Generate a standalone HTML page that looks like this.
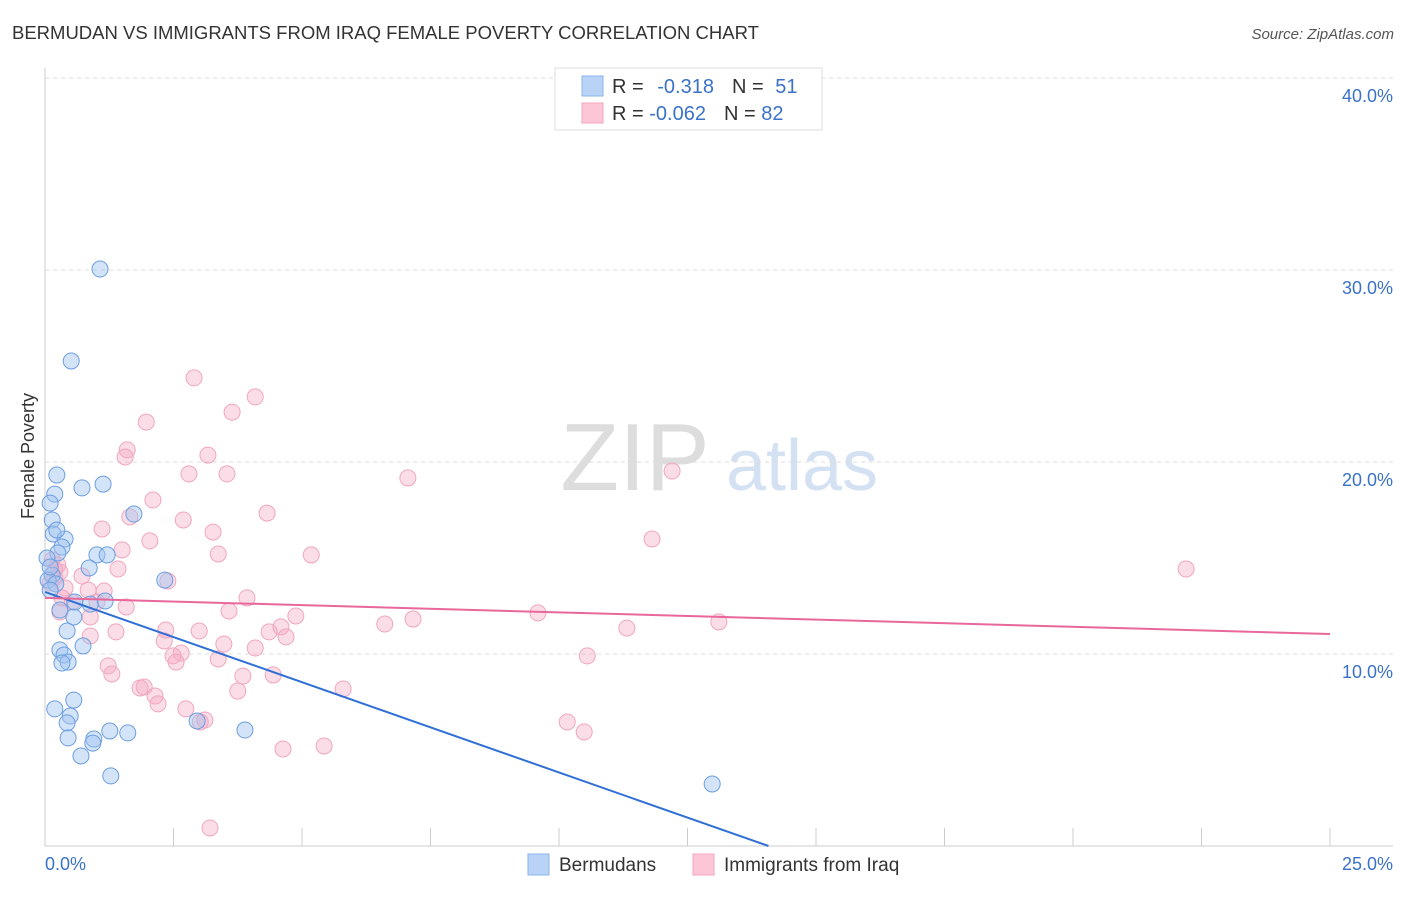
<!DOCTYPE html>
<html><head><meta charset="utf-8"><style>
body{margin:0;background:#fff;font-family:"Liberation Sans",sans-serif;}
svg text{font-family:"Liberation Sans",sans-serif;}
</style></head><body>
<svg id="chart" width="1406" height="892" viewBox="0 0 1406 892" xmlns="http://www.w3.org/2000/svg">
<text x="12" y="39" font-size="18.5" fill="#333">BERMUDAN VS IMMIGRANTS FROM IRAQ FEMALE POVERTY CORRELATION CHART</text>
<text x="1394" y="39" font-size="15" fill="#555" text-anchor="end" font-style="italic">Source: ZipAtlas.com</text>
<g>
<text x="635" y="490" font-size="96" fill="#ddd" font-family="Liberation Serif" text-anchor="middle">ZIP</text>
<text x="802" y="490" font-size="72" fill="#d3e1f3" text-anchor="middle">atlas</text>
</g>
<g id="grid"></g>
<g id="axes"></g>
<text transform="translate(34,456) rotate(-90)" font-size="18" fill="#333" text-anchor="middle">Female Poverty</text>
<g id="pts"></g>
<g id="trends"></g>
<g>
<rect x="555" y="68" width="267" height="62" fill="#fff" stroke="#ddd"/>
<rect x="582" y="76" width="21" height="20" fill="#b8d3f6" stroke="#8ab4ea"/>
<rect x="582" y="103" width="21" height="20" fill="#fcc6d6" stroke="#f2a5bf"/>
<text x="612" y="93" font-size="20" fill="#333">R = <tspan fill="#3a72c8" dx="8">-0.318</tspan><tspan dx="18" fill="#333">N = </tspan><tspan fill="#3a72c8" dx="6">51</tspan></text>
<text x="612" y="120" font-size="20" fill="#333">R = <tspan fill="#3a72c8">-0.062</tspan><tspan dx="18" fill="#333">N = </tspan><tspan fill="#3a72c8">82</tspan></text>
</g>
<g>
<rect x="528" y="854" width="21" height="21" fill="#b8d3f6" stroke="#8ab4ea"/>
<text x="559" y="871" font-size="19" fill="#333">Bermudans</text>
<rect x="693" y="854" width="21" height="21" fill="#fcc6d6" stroke="#f2a5bf"/>
<text x="724" y="871" font-size="19" fill="#333">Immigrants from Iraq</text>
</g>
</svg>
<script>
const yTicks=[10,20,30,40];
const yTickLabels=["10.0%","20.0%","30.0%","40.0%"];
const xTickLabels=["0.0%","25.0%"];
const blueX=[1.07,.51,.23,.19,.72,1.13,.10,.14,1.73,.16,.39,.33,.25,1.01,1.21,.04,.86,.14,.06,.21,.10,2.33,1.17,.29,.56,.43,.74,.29,.37,.45,.33,.56,.19,.49,.43,.45,.95,.93,1.26,1.61,2.96,3.89,.70,1.28,12.98,.58,.88,.10,.23];
const blueY=[30.05,25.26,19.32,18.33,18.65,18.85,17.86,16.98,17.29,16.25,15.99,15.57,15.26,15.16,15.16,15.0,14.48,14.11,13.85,13.65,13.33,13.85,12.76,12.29,11.93,11.2,10.42,10.21,9.95,9.58,9.53,7.6,7.14,6.77,6.41,5.63,5.57,5.36,5.99,5.89,6.51,6.04,4.69,3.65,3.23,12.71,12.6,14.53,16.46];
const pinkX=[2.90,4.09,3.64,1.97,1.60,1.56,3.17,2.80,3.54,7.06,12.2,2.10,4.32,1.65,2.69,1.11,3.27,11.81,2.04,1.50,3.37,5.18,1.42,22.2,.19,.29,.72,2.39,.10,.19,.39,.84,1.15,3.93,.33,.53,1.01,1.58,.29,3.58,4.88,.88,9.59,7.16,6.61,13.11,11.32,2.35,3.0,4.59,1.38,4.36,4.69,.88,2.32,3.48,4.09,2.65,10.55,1.23,2.49,3.37,2.55,1.30,3.85,4.44,1.85,1.93,3.75,5.80,2.14,2.20,2.74,10.16,3.02,3.11,10.49,5.43,4.63,3.21,.14,.25];
const pinkY=[24.38,23.39,22.6,22.08,20.63,20.26,20.36,19.38,19.38,19.17,19.53,18.02,17.34,17.14,16.98,16.51,16.35,15.99,15.89,15.42,15.21,15.16,14.43,14.43,14.38,14.27,14.06,13.8,13.7,13.96,13.44,13.33,13.28,12.92,12.92,12.71,12.71,12.45,12.19,12.24,11.98,11.93,12.14,11.82,11.56,11.67,11.35,11.25,11.2,11.41,11.15,11.15,10.89,10.94,10.68,10.52,10.31,10.05,9.9,9.38,9.9,9.74,9.58,8.96,8.85,8.91,8.23,8.28,8.07,8.18,7.81,7.40,7.14,6.46,6.46,6.56,5.94,5.21,5.05,0.94,14.9,14.64];
const blueTrend=[13.23,-0.94];   // intercept, slope per %
const pinkTrend=[12.92,-0.0752];
const NS="http://www.w3.org/2000/svg";
const X=v=>45+v*(1285/25);
const Y=v=>846-v*19.2;
function mk(tag,attrs,parent){const e=document.createElementNS(NS,tag);for(const k in attrs)e.setAttribute(k,attrs[k]);parent.appendChild(e);return e;}
const grid=document.getElementById('grid'),axes=document.getElementById('axes');
yTicks.forEach((t,i)=>{
 const l=mk('line',{x1:45,x2:1393,y1:Y(t),y2:Y(t),stroke:'#ddd','stroke-dasharray':'4,4'},grid);
 
 
 const tx=mk('text',{x:1393,y:Y(t)+24,'font-size':18,fill:'#3a72c8','text-anchor':'end'},axes);
 tx.textContent=yTickLabels[i];
 
 
});
mk('line',{x1:45,x2:45,y1:68,y2:846,stroke:'#ccc'},axes);
mk('line',{x1:45,x2:1393,y1:846,y2:846,stroke:'#ccc'},axes);
for(let i=1;i<=10;i++){const xx=X(i*2.5);const t=mk('line',{x1:xx,x2:xx,y1:828,y2:846,stroke:'#ccc'},axes);}
const xl0=mk('text',{x:45,y:870,'font-size':18,fill:'#3a72c8'},axes);xl0.textContent=xTickLabels[0];


const xl1=mk('text',{x:1393,y:870,'font-size':18,fill:'#3a72c8','text-anchor':'end'},axes);xl1.textContent=xTickLabels[1];


const pts=document.getElementById('pts');
pinkX.forEach((v,i)=>{const c=mk('circle',{cx:X(v),cy:Y(pinkY[i]),r:8,fill:'rgba(246,170,196,0.4)',stroke:'#f0a6c0','stroke-width':1},pts);
 
 });
blueX.forEach((v,i)=>{const c=mk('circle',{cx:X(v),cy:Y(blueY[i]),r:8,fill:'rgba(160,196,240,0.45)',stroke:'#6c9ee0','stroke-width':1},pts);
 
 });
const tr=document.getElementById('trends');
const bEnd=-blueTrend[0]/blueTrend[1];
const bl=mk('line',{x1:X(0),y1:Y(blueTrend[0]),x2:X(bEnd),y2:Y(0),stroke:'#2f6fd6','stroke-width':2},tr);


const pl=mk('line',{x1:X(0),y1:Y(pinkTrend[0]),x2:X(25),y2:Y(pinkTrend[0]+25*pinkTrend[1]),stroke:'#e8689a','stroke-width':2},tr);


</script>
</body></html>
